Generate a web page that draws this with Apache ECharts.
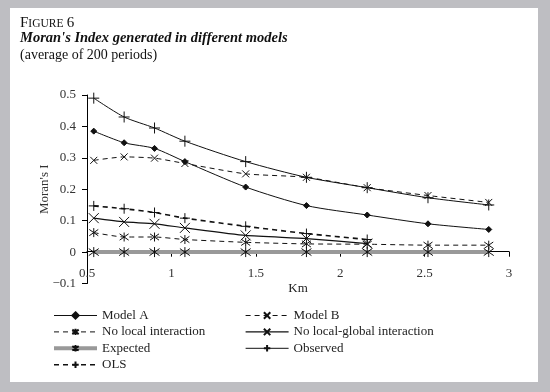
<!DOCTYPE html>
<html>
<head>
<meta charset="utf-8">
<script src="https://cdn.jsdelivr.net/npm/echarts@6/dist/echarts.min.js"></script>
<style>
  html, body { margin: 0; padding: 0; background: #bebec2; }
  #chart { width: 550px; height: 392px; }
</style>
</head>
<body>
<div id="chart"></div>
<script>
// distances (km) and Moran's I values
const km = [0.54, 0.72, 0.9, 1.08, 1.44, 1.8, 2.16, 2.52, 2.88];
const modelA = [0.385, 0.348, 0.33, 0.288, 0.207, 0.148, 0.118, 0.09, 0.072];
const modelB = [0.292, 0.303, 0.299, 0.282, 0.249, 0.238, 0.205, 0.18, 0.158];
const noLocal = [0.062, 0.048, 0.048, 0.04, 0.031, 0.026, 0.025, 0.022, 0.022];
const noLocalGlobal = [0.108, 0.096, 0.09, 0.077, 0.053, 0.043, 0.027];
const expected = [0, 0, 0, 0, 0, 0, 0, 0, 0];
const observed = [0.49, 0.43, 0.395, 0.353, 0.288, 0.238, 0.205, 0.173, 0.15];
const ols = [0.147, 0.138, 0.126, 0.108, 0.082, 0.059, 0.04];

const serif = '"Liberation Serif", "DejaVu Serif", serif';
const PLUS = 'path://M0,5L10,5M5,0L5,10';
const CROSS = 'path://M0,0L10,10M10,0L0,10';
const STAR = 'path://M1,1.5L9,8.5M9,1.5L1,8.5M5,0L5,10';

const styles = {
  'Model A': { color: '#111', width: 1 },
  'Model B': { color: '#111', width: 1, type: [5, 4] },
  'No local interaction': { color: '#111', width: 1, type: [5, 4] },
  'No local-global interaction': { color: '#111', width: 1.2 },
  'Expected': { color: '#999', width: 4 },
  'Observed': { color: '#111', width: 1 },
  'OLS': { color: '#111', width: 1.6, type: [5, 4] }
};

function pairs(ys) {
  return ys.map((y, i) => [km[i], y]);
}

function mk(name, ys, symbol, size, smooth) {
  return {
    name: name,
    type: 'line',
    data: pairs(ys),
    symbol: symbol,
    symbolSize: size,
    smooth: smooth || 0,
    itemStyle: { color: '#111', borderColor: '#111', borderWidth: 1 },
    lineStyle: styles[name],
    emphasis: { disabled: true },
    animation: false
  };
}

function legendItems(names) {
  return names.map(n => ({ name: n, lineStyle: styles[n] }));
}

const chart = echarts.init(document.getElementById('chart'));

chart.setOption({
  backgroundColor: 'transparent',
  textStyle: { fontFamily: serif },
  graphic: [
    { type: 'rect', z: -10, shape: { x: 10, y: 8, width: 528, height: 374 }, style: { fill: '#fff' } },
    { type: 'text', left: 20, top: 16, style: {
        text: '{a|F}{b|IGURE} {a|6}',
        rich: {
          a: { fontFamily: serif, fontSize: 15, fill: '#111' },
          b: { fontFamily: serif, fontSize: 11.5, fill: '#111' }
        } } },
    { type: 'text', left: 20, top: 31, style: {
        text: "Moran's Index generated in different models",
        font: 'italic bold 14.5px ' + serif, fill: '#111' } },
    { type: 'text', left: 20, top: 48, style: {
        text: '(average of 200 periods)',
        font: '14px ' + serif, fill: '#111' } }
  ],
  grid: { left: 87, right: 41, top: 95, bottom: 108.5 },
  xAxis: {
    type: 'value',
    min: 0.5, max: 3, interval: 0.5,
    offset: -31.8,
    name: 'Km', nameLocation: 'middle', nameGap: 30,
    nameTextStyle: { fontFamily: serif, fontSize: 13, color: '#222' },
    axisLine: { onZero: false, lineStyle: { color: '#000', width: 1 } },
    axisTick: { show: true, inside: false, length: 5, lineStyle: { color: '#000' } },
    axisLabel: { margin: 15, fontFamily: serif, fontSize: 13, color: '#333',
      formatter: v => String(v) },
    splitLine: { show: false }
  },
  yAxis: {
    type: 'value',
    min: -0.1, max: 0.5, interval: 0.1,
    name: "Moran's I", nameLocation: 'middle', nameGap: 36,
    nameMoveOverlap: false,
    nameTextStyle: { fontFamily: serif, fontSize: 13, color: '#333' },
    axisLine: { show: true, lineStyle: { color: '#000', width: 1 } },
    axisTick: { show: true, inside: false, length: 5, lineStyle: { color: '#000' } },
    axisLabel: { margin: 11, fontFamily: serif, fontSize: 13, color: '#333',
      formatter: v => (Math.round(v * 10) / 10).toString().replace('-', '\u2212') },
    splitLine: { show: false }
  },
  legend: [
    {
      orient: 'vertical', left: 52, top: 309, padding: 0,
      itemWidth: 43, itemHeight: 8, itemGap: 3.4,
      textStyle: { fontFamily: serif, fontSize: 13, color: '#222' },
      data: legendItems(['Model A', 'No local interaction', 'Expected', 'OLS'])
    },
    {
      orient: 'vertical', left: 245, top: 309, padding: 0,
      itemWidth: 43, itemHeight: 8, itemGap: 3.4,
      textStyle: { fontFamily: serif, fontSize: 13, color: '#222' },
      data: legendItems(['Model B', 'No local-global interaction', 'Observed'])
    }
  ],
  series: [
    mk('Expected', expected, STAR, 10),
    mk('Model A', modelA, 'diamond', 6, 0.25),
    mk('Model B', modelB, CROSS, 7, 0.2),
    mk('No local interaction', noLocal, STAR, 9, 0.2),
    mk('No local-global interaction', noLocalGlobal, CROSS, 10, 0.2),
    mk('Observed', observed, PLUS, 11, 0.25),
    mk('OLS', ols, PLUS, 10, 0.2)
  ]
});
</script>
</body>
</html>
